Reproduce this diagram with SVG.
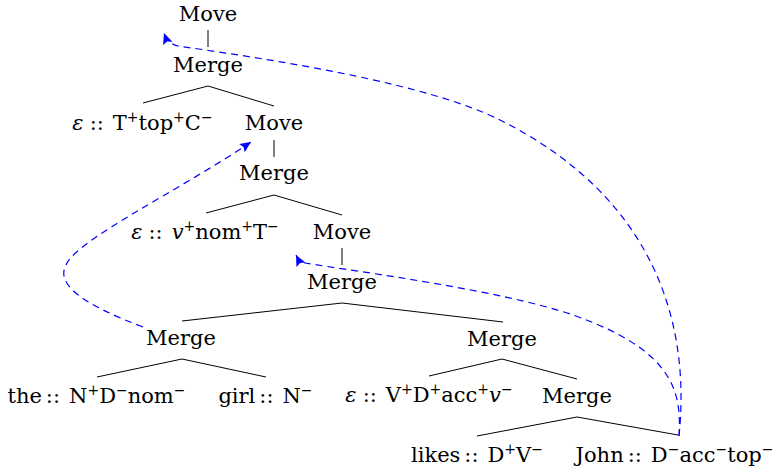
<svg xmlns="http://www.w3.org/2000/svg" width="779" height="472" viewBox="0 0 779 472">
<style>
.lbl{font-family:"DejaVu Serif","Liberation Serif",serif;font-size:21px;text-anchor:middle;fill:#000}
.sup{font-size:14px}
.it{font-style:italic}
.edge{stroke:#000;stroke-width:1;fill:none}
.mv{stroke:#0000ff;stroke-width:1.2;fill:none;stroke-dasharray:7 5;marker-end:url(#ah)}
</style>
<defs>
<marker id="ah" markerUnits="userSpaceOnUse" markerWidth="14" markerHeight="12" refX="11" refY="5" orient="auto">
<path d="M0,0 L11,5 L0,10 L2,5 z" fill="#0000ff"/>
</marker>
</defs>
<g id="edges">
<path class="edge" d="M208 30 V47"/>
<path class="edge" d="M143 103 L208 86 L274 106"/>
<path class="edge" d="M274 140 V157"/>
<path class="edge" d="M206 213 L274 195 L342 215"/>
<path class="edge" d="M342 248 V265"/>
<path class="edge" d="M182 321 L342 303 L503 322"/>
<path class="edge" d="M97 377 L182 359 L266 377"/>
<path class="edge" d="M429 376 L502 359 L577 379"/>
<path class="edge" d="M477 436 L577 417 L678 435"/>
</g>
<g id="moves">
<path class="mv" d="M679 436 C690 330 660 200 500 120 C430 85 290 62 178 46 Q168 44 164 33"/>
<path class="mv" d="M143 327 C85 305 55 285 66 265 C76 240 180 190 251 142"/>
<path class="mv" d="M679 436 C682 390 672 350 573 315 C500 290 360 272 305 263 Q299 261 296 255"/>
</g>
<g id="n1"><text class="lbl" x="208" y="21">Move</text></g>
<g id="n2"><text class="lbl" x="208" y="72">Merge</text></g>
<g id="n3"><text class="lbl" x="142.5" y="130"><tspan class="it">ε</tspan><tspan dx="6">::</tspan><tspan dx="9">T</tspan><tspan class="sup" dy="-8">+</tspan><tspan dy="8">top</tspan><tspan class="sup" dy="-8">+</tspan><tspan dy="8">C</tspan><tspan class="sup" dy="-8">−</tspan></text></g>
<g id="n4"><text class="lbl" x="274" y="130">Move</text></g>
<g id="n5"><text class="lbl" x="274" y="180">Merge</text></g>
<g id="n6"><text class="lbl" x="205" y="239"><tspan class="it">ε</tspan><tspan dx="6">::</tspan><tspan dx="9" class="it">v</tspan><tspan class="sup" dy="-8">+</tspan><tspan dy="8">nom</tspan><tspan class="sup" dy="-8">+</tspan><tspan dy="8">T</tspan><tspan class="sup" dy="-8">−</tspan></text></g>
<g id="n7"><text class="lbl" x="342" y="239">Move</text></g>
<g id="n8"><text class="lbl" x="342" y="289">Merge</text></g>
<g id="n9"><text class="lbl" x="181" y="345">Merge</text></g>
<g id="n10"><text class="lbl" x="502" y="346">Merge</text></g>
<g id="n11"><text class="lbl" x="96.5" y="403">the<tspan dx="4">::</tspan><tspan dx="9">N</tspan><tspan class="sup" dy="-8">+</tspan><tspan dy="8">D</tspan><tspan class="sup" dy="-8">−</tspan><tspan dy="8">nom</tspan><tspan class="sup" dy="-8">−</tspan></text></g>
<g id="n12"><text class="lbl" x="265.5" y="403">girl<tspan dx="4">::</tspan><tspan dx="9">N</tspan><tspan class="sup" dy="-8">−</tspan></text></g>
<g id="n13"><text class="lbl" x="429" y="402"><tspan class="it">ε</tspan><tspan dx="6">::</tspan><tspan dx="9">V</tspan><tspan class="sup" dy="-8">+</tspan><tspan dy="8">D</tspan><tspan class="sup" dy="-8">+</tspan><tspan dy="8">acc</tspan><tspan class="sup" dy="-8">+</tspan><tspan dy="8" class="it">v</tspan><tspan class="sup" dy="-8">−</tspan></text></g>
<g id="n14"><text class="lbl" x="577" y="403">Merge</text></g>
<g id="n15"><text class="lbl" x="477" y="462">likes<tspan dx="4">::</tspan><tspan dx="9">D</tspan><tspan class="sup" dy="-8">+</tspan><tspan dy="8">V</tspan><tspan class="sup" dy="-8">−</tspan></text></g>
<g id="n16"><text class="lbl" x="674.5" y="462">John<tspan dx="4">::</tspan><tspan dx="9">D</tspan><tspan class="sup" dy="-8">−</tspan><tspan dy="8">acc</tspan><tspan class="sup" dy="-8">−</tspan><tspan dy="8">top</tspan><tspan class="sup" dy="-8">−</tspan></text></g>
</svg>
